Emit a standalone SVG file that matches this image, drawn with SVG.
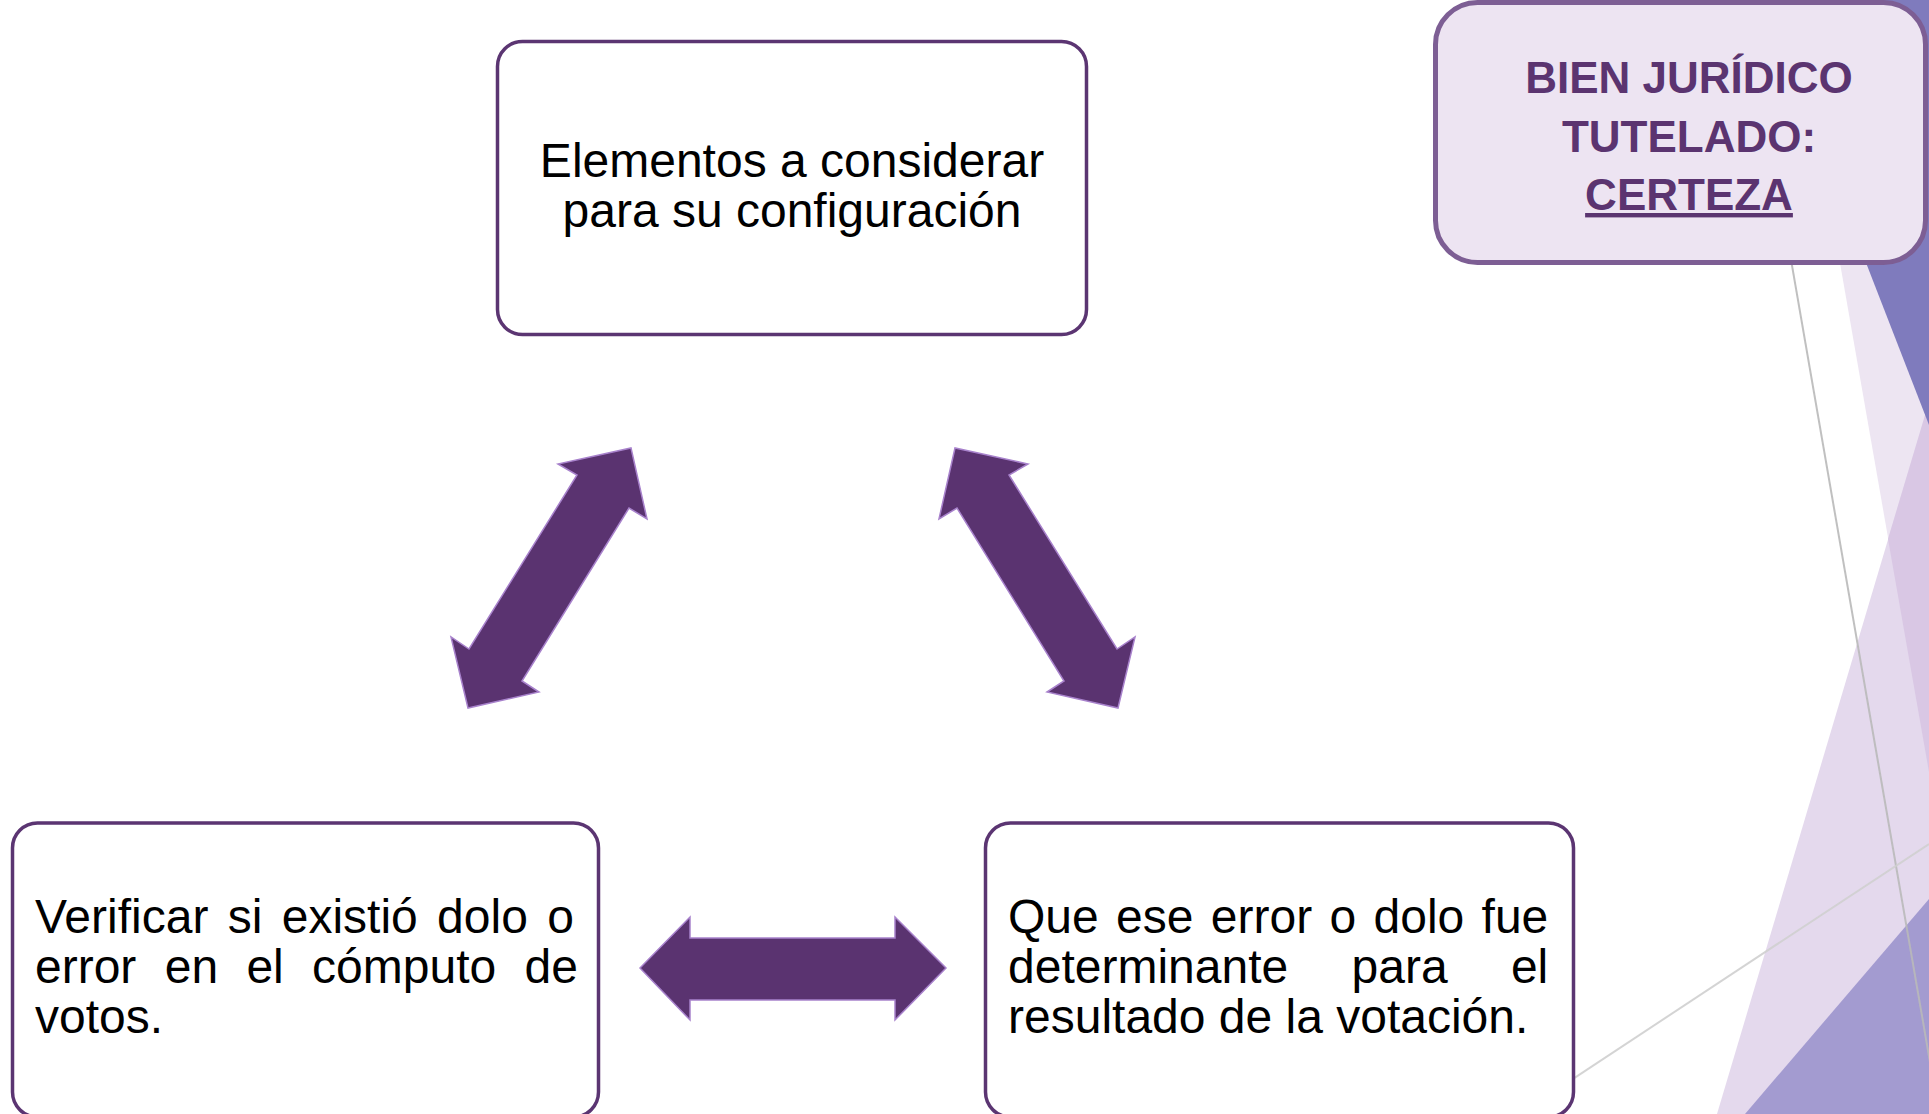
<svg xmlns="http://www.w3.org/2000/svg" width="1929" height="1114" viewBox="0 0 1929 1114">
  <style>
    .box { fill: #ffffff; stroke: #5b3572; stroke-width: 3.5; }
    .body { font-family: "Liberation Sans", Arial, sans-serif; font-size: 48px; fill: #000000; }
    .title { font-family: "Liberation Sans", Arial, sans-serif; font-size: 44px; font-weight: bold; fill: #5b3470; text-anchor: middle; }
    .arrow { fill: #5a3370; stroke: #a882cc; stroke-width: 1.5; stroke-linejoin: miter; }
    .gline { fill: none; stroke-width: 2; }
  </style>
  <rect x="0" y="0" width="1929" height="1114" fill="#ffffff"/>
  <g id="background">
    <polygon points="1794,0 1929,0 1929,772" fill="#ede5f2"/>
    <polygon points="1717,1114 1929,402 1929,1114" fill="#e4d9ed"/>
    <polygon points="1888,539 1929,402 1929,772" fill="#d9c7e4"/>
    <polygon points="1764,0 1929,0 1929,425" fill="#7f7bbd"/>
    <polygon points="1745,1114 1929,899 1929,1114" fill="#a39bd0"/>
    <line class="gline" x1="1746" y1="0" x2="1939" y2="1114" stroke="#b9b9b9" stroke-opacity="0.9"/>
    <line class="gline" x1="1400" y1="1193" x2="1929" y2="844" stroke="#cfcfcf" stroke-opacity="0.9"/>
  </g>
  <g id="connectors">
    <polygon class="arrow" points="631,448 647,519 629,508 522,681 539,692 468,708 451,637 469,649 577,475 558,464"/>
    <polygon class="arrow" points="955,448 939,519 957,508 1064,681 1047,692 1118,708 1135,637 1117,649 1009,475 1028,464"/>
    <polygon class="arrow" points="640,968 690,917 690,938 895,938 895,917 946,968 895,1020 895,1000 690,1000 690,1020"/>
  </g>
  <g id="node-elementos">
    <rect class="box" x="497.5" y="41.5" width="589" height="293" rx="25"/>
    <text class="body" x="792" y="177" text-anchor="middle">Elementos a considerar</text>
    <text class="body" x="792" y="227" text-anchor="middle">para su configuración</text>
  </g>
  <g id="node-verificar">
    <rect class="box" x="12.5" y="823" width="586" height="294" rx="25"/>
    <text class="body" x="35" y="933" style="word-spacing:6px">Verificar si existió dolo o</text>
    <text class="body" x="35" y="983" style="word-spacing:15px">error en el cómputo de</text>
    <text class="body" x="35" y="1033">votos.</text>
  </g>
  <g id="node-determinante">
    <rect class="box" x="985.5" y="823" width="588" height="294" rx="25"/>
    <text class="body" x="1008" y="933" style="word-spacing:4px">Que ese error o dolo fue</text>
    <text class="body" x="1008" y="983" style="word-spacing:50px">determinante para el</text>
    <text class="body" x="1008" y="1033">resultado de la votación.</text>
  </g>
  <g id="node-bien-juridico">
    <rect x="1435.5" y="2.5" width="490" height="260" rx="42" fill="#ede4f2" stroke="#7d5e94" stroke-width="5"/>
    <text class="title" x="1689" y="93">BIEN JURÍDICO</text>
    <text class="title" x="1689" y="152">TUTELADO:</text>
    <text class="title" x="1689" y="210" style="text-decoration:underline">CERTEZA</text>
  </g>
</svg>
